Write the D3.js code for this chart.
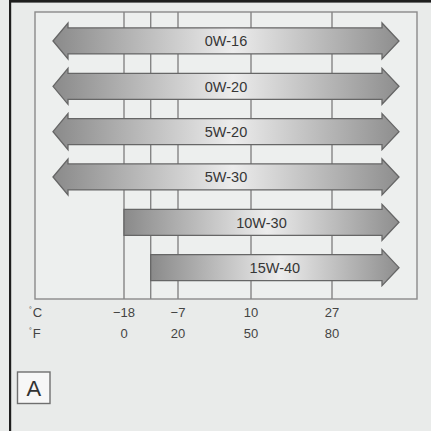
<!DOCTYPE html>
<html>
<head>
<meta charset="utf-8">
<script src="https://cdn.jsdelivr.net/npm/d3@7/dist/d3.min.js"></script>
<style>
  html, body { margin: 0; padding: 0; background: #e9ebea; }
  svg { display: block; }
</style>
</head>
<body>
<script>
// Oil viscosity grades and the lowest outside temperature (°F) each one suits.
// null = usable at any low temperature (arrow continues to the left).
const grades = ["0W-16", "0W-20", "5W-20", "5W-30", "10W-30", "15W-40"];
const minTempF = [null, null, null, null, 0, 10];

// Temperature axis labels
const celsiusLabels = ["\u221218", "\u22127", "10", "27"];
const fahrenheitTicks = [0, 20, 50, 80];
const gridLinesF = [0, 10, 20, 50, 80];

const W = 431, H = 431;
const box = { left: 35, top: 12, right: 417, bottom: 299 };

const svg = d3.select("body").append("svg")
  .attr("width", W).attr("height", H);

// page background and outer frame (left and top rules)
svg.append("rect").attr("width", W).attr("height", H).attr("fill", "#e9ebea");
svg.append("rect").attr("x", 9).attr("y", 0).attr("width", 2.2).attr("height", H).attr("fill", "#1e1e1e");
svg.append("rect").attr("x", 9).attr("y", 0).attr("width", W - 9).attr("height", 2.6).attr("fill", "#1e1e1e");

// temperature scale (°F), piecewise to follow the printed grid spacing
const x = d3.scaleLinear()
  .domain([0, 10, 20, 50, 80])
  .range([124, 150.7, 178, 251, 332]);

const y = d3.scaleBand()
  .domain(grades)
  .range([18.3, 290.3]);

// chart frame
svg.append("rect")
  .attr("x", box.left).attr("y", box.top)
  .attr("width", box.right - box.left).attr("height", box.bottom - box.top)
  .attr("fill", "#edefee").attr("stroke", "#8a8a8a").attr("stroke-width", 1.4);

// vertical temperature grid
svg.append("g").selectAll("line").data(gridLinesF).join("line")
  .attr("x1", d => x(d)).attr("x2", d => x(d))
  .attr("y1", box.top).attr("y2", box.bottom)
  .attr("stroke", "#858585").attr("stroke-width", 1.4);

// shared gradient for the arrow bodies
const defs = svg.append("defs");
const grad = defs.append("linearGradient").attr("id", "arrowFill")
  .attr("x1", "0").attr("x2", "1").attr("y1", "0").attr("y2", "0");
grad.append("stop").attr("offset", "0").attr("stop-color", "#8a8a8a");
grad.append("stop").attr("offset", "0.52").attr("stop-color", "#ececec");
grad.append("stop").attr("offset", "1").attr("stop-color", "#8e8e8e");

const bodyHalf = 13, headHalf = 18, headLen = 17;
const leftTip = box.left + 18, rightTip = box.right - 18;

function arrowPath(x0, cy, openLeft) {
  const p = d3.path();
  const r0 = rightTip - headLen;
  const l0 = leftTip + headLen - 2;
  if (openLeft) {
    p.moveTo(leftTip, cy);
    p.lineTo(l0, cy - headHalf);
    p.lineTo(l0, cy - bodyHalf);
  } else {
    p.moveTo(x0, cy - bodyHalf);
  }
  p.lineTo(r0, cy - bodyHalf);
  p.lineTo(r0, cy - headHalf);
  p.lineTo(rightTip, cy);
  p.lineTo(r0, cy + headHalf);
  p.lineTo(r0, cy + bodyHalf);
  if (openLeft) {
    p.lineTo(l0, cy + bodyHalf);
    p.lineTo(l0, cy + headHalf);
  } else {
    p.lineTo(x0, cy + bodyHalf);
  }
  p.closePath();
  return p.toString();
}

const rows = grades.map((g, i) => ({ grade: g, min: minTempF[i] }));

const arrows = svg.append("g").selectAll("g").data(rows).join("g");

arrows.append("path")
  .attr("d", d => arrowPath(d.min === null ? leftTip : x(d.min), y(d.grade) + y.bandwidth() / 2, d.min === null))
  .attr("fill", "url(#arrowFill)")
  .attr("stroke", "#666").attr("stroke-width", 1.3)
  .attr("stroke-linejoin", "miter");

arrows.append("text")
  .attr("x", d => ((d.min === null ? leftTip : x(d.min)) + rightTip) / 2)
  .attr("y", d => y(d.grade) + y.bandwidth() / 2)
  .attr("dy", "0.36em")
  .attr("text-anchor", "middle")
  .attr("font-family", "Liberation Sans, Arial, sans-serif")
  .attr("font-size", 14.5)
  .attr("fill", "#363636")
  .text(d => d.grade);

// axis labels
const labelFont = "Liberation Sans, Arial, sans-serif";
const cRow = 317, fRow = 338;

const unitG = svg.append("g").attr("font-family", labelFont).attr("fill", "#444");
[["C", cRow], ["F", fRow]].forEach(([u, yy]) => {
  const t = unitG.append("text").attr("x", 29).attr("y", yy).attr("font-size", 13);
  t.append("tspan").attr("font-size", 7).attr("dy", -5).text("\u00B0");
  t.append("tspan").attr("dy", 5).attr("dx", 1).text(u);
});

svg.append("g").selectAll("text").data(fahrenheitTicks).join("text")
  .attr("x", d => x(d)).attr("y", cRow)
  .attr("text-anchor", "middle")
  .attr("font-family", labelFont).attr("font-size", 13).attr("fill", "#444")
  .text((d, i) => celsiusLabels[i]);

svg.append("g").selectAll("text").data(fahrenheitTicks).join("text")
  .attr("x", d => x(d)).attr("y", fRow)
  .attr("text-anchor", "middle")
  .attr("font-family", labelFont).attr("font-size", 13).attr("fill", "#444")
  .text(d => d);

// panel tag
svg.append("rect")
  .attr("x", 17.5).attr("y", 372).attr("width", 32.5).attr("height", 31.5)
  .attr("fill", "#f7f7f7").attr("stroke", "#6f6f6f").attr("stroke-width", 1.4);
svg.append("text")
  .attr("x", 33.8).attr("y", 396)
  .attr("text-anchor", "middle")
  .attr("font-family", labelFont).attr("font-size", 22).attr("fill", "#333")
  .text("A");
</script>
</body>
</html>
